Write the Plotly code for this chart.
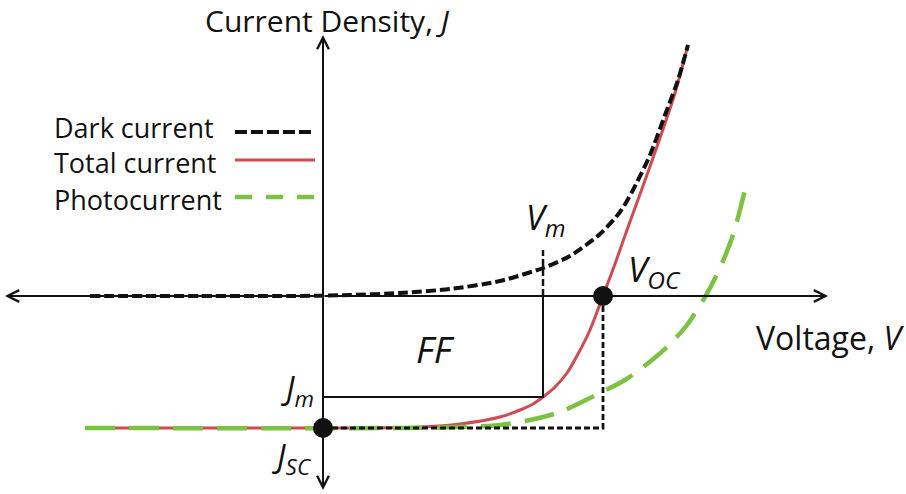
import plotly.graph_objects as go

# Schematic J-V characteristics of a solar cell (arbitrary units)
V_dark = [-2.33, -1.23, -0.23, 0.27, 0.77, 1.27, 1.77, 2.20, 2.47, 2.77, 2.97, 3.10, 3.27, 3.42, 3.55, 3.65]
J_dark = [0.00, 0.00, 0.00, 0.01, 0.03, 0.07, 0.15, 0.28, 0.40, 0.62, 0.84, 1.06, 1.41, 1.81, 2.16, 2.51]

V_total = [-2.38, 0.27, 0.97, 1.37, 1.77, 1.97, 2.10, 2.20, 2.32, 2.44, 2.55, 2.67, 2.80, 2.92, 3.04, 3.20, 3.37, 3.52, 3.65]
J_total = [-1.32, -1.32, -1.31, -1.28, -1.21, -1.14, -1.08, -1.01, -0.91, -0.77, -0.58, -0.34, 0.00, 0.32, 0.66, 1.10, 1.58, 2.03, 2.51]

V_photo = [-2.38, 0.77, 1.37, 1.77, 2.07, 2.37, 2.77, 3.02, 3.24, 3.44, 3.64, 3.82, 3.97, 4.10, 4.22]
J_photo = [-1.32, -1.32, -1.31, -1.29, -1.24, -1.16, -0.97, -0.84, -0.68, -0.51, -0.29, -0.01, 0.28, 0.61, 1.06]

# Characteristic points
V_oc = 2.80
J_sc = -1.32
V_m = 2.20
J_m = -1.01

# Axis extents
V_axis = [-3.18, 5.05]
J_axis = [-1.94, 2.61]

legend_names = ["Dark current", "Total current", "Photocurrent"]

BLACK = "#111111"
RED = "#d04a52"
GREEN = "#7cc242"
FONT = "Open Sans"

fig = go.Figure()

curve_styles = [
    dict(color=BLACK, width=4, dash="10px,4px"),
    dict(color=RED, width=3),
    dict(color=GREEN, width=4.5, dash="30px,14px"),
]

# Total current underneath, photocurrent above it, dark current on top
fig.add_trace(go.Scatter(x=V_total, y=J_total, mode="lines", line=dict(**curve_styles[1], shape="spline", smoothing=0.7),
                         hoverinfo="skip"))
fig.add_trace(go.Scatter(x=V_photo, y=J_photo, mode="lines", line=dict(**curve_styles[2], shape="spline", smoothing=0.8),
                         hoverinfo="skip"))
fig.add_trace(go.Scatter(x=V_dark, y=J_dark, mode="lines", line=dict(**curve_styles[0], shape="spline", smoothing=0.7),
                         hoverinfo="skip"))

# Maximum power rectangle
fig.add_trace(go.Scatter(x=[0, V_m, V_m], y=[J_m, J_m, 0], mode="lines",
                         line=dict(color=BLACK, width=2), hoverinfo="skip"))
# V_m tick above the axis
fig.add_trace(go.Scatter(x=[V_m, V_m], y=[0, 0.46], mode="lines",
                         line=dict(color=BLACK, width=2.5, dash="7px,3px"), hoverinfo="skip"))
# Jsc x Voc rectangle
fig.add_trace(go.Scatter(x=[0, V_oc, V_oc], y=[J_sc, J_sc, 0], mode="lines",
                         line=dict(color=BLACK, width=2.8, dash="6px,3px"), hoverinfo="skip"))
# Jsc and Voc points
fig.add_trace(go.Scatter(x=[0, V_oc], y=[J_sc, 0], mode="markers",
                         marker=dict(color=BLACK, size=20), hoverinfo="skip"))

# Legend samples (line to the right of the text)
leg_x = [-0.88, -0.08]
leg_y = [1.64, 1.36, 0.99]
leg_text_y = [1.69, 1.34, 0.97]
for name, ly, ty, st in zip(legend_names, leg_y, leg_text_y, curve_styles):
    st = dict(st)
    if st["color"] == GREEN:
        st["dash"] = "17px,14px"
    elif st["color"] == BLACK:
        st["dash"] = "12px,4px"
    fig.add_trace(go.Scatter(x=leg_x, y=[ly, ly], mode="lines", line=st, hoverinfo="skip"))
    fig.add_annotation(x=-2.71, y=ty, xref="x", yref="y", text=name, showarrow=False,
                       xanchor="left", yanchor="middle", font=dict(family=FONT, size=27, color=BLACK))

# Axes drawn as double-headed arrows through the origin
for tx, ty in [(V_axis[0], 0), (V_axis[1], 0), (0, J_axis[0]), (0, J_axis[1])]:
    fig.add_annotation(x=tx, y=ty, ax=0, ay=0, xref="x", yref="y", axref="x", ayref="y",
                       text="", showarrow=True, arrowhead=5, arrowsize=1.15, arrowwidth=2,
                       arrowcolor=BLACK, standoff=0, startstandoff=0)

# Axis title at the top of the current axis
fig.add_annotation(x=0.04, y=1.0, xref="x", yref="paper", text="Current Density, <i>J</i>",
                   showarrow=False, xanchor="center", yanchor="top", yshift=2,
                   font=dict(family=FONT, size=30, color=BLACK))

labels = [
    dict(x=4.31, y=-0.41, text="Voltage, <i>V</i>", xanchor="left", size=32),
    dict(x=1.12, y=-0.52, text="<i>FF</i>", xanchor="center", size=37),
    dict(x=2.22, y=0.77, text="<i>V<sub>m</sub></i>", xanchor="center", size=34),
    dict(x=3.03, y=0.26, text="<i>V<sub>OC</sub></i>", xanchor="left", size=35),
    dict(x=-0.07, y=-0.94, text="<i>J<sub>m</sub></i>", xanchor="right", size=32),
    dict(x=-0.09, y=-1.62, text="<i>J<sub>SC</sub></i>", xanchor="right", size=32),
]
for lb in labels:
    fig.add_annotation(x=lb["x"], y=lb["y"], xref="x", yref="y", text=lb["text"], showarrow=False,
                       xanchor=lb["xanchor"], yanchor="middle",
                       font=dict(family=FONT, size=lb["size"], color=BLACK))

fig.update_layout(
    width=906, height=494,
    margin=dict(l=0, r=0, t=0, b=0),
    paper_bgcolor="white", plot_bgcolor="white",
    showlegend=False,
    xaxis=dict(range=[-3.23, 5.83], visible=False, fixedrange=True),
    yaxis=dict(range=[-1.98, 2.96], visible=False, fixedrange=True),
)

fig.write_html("out.html")
